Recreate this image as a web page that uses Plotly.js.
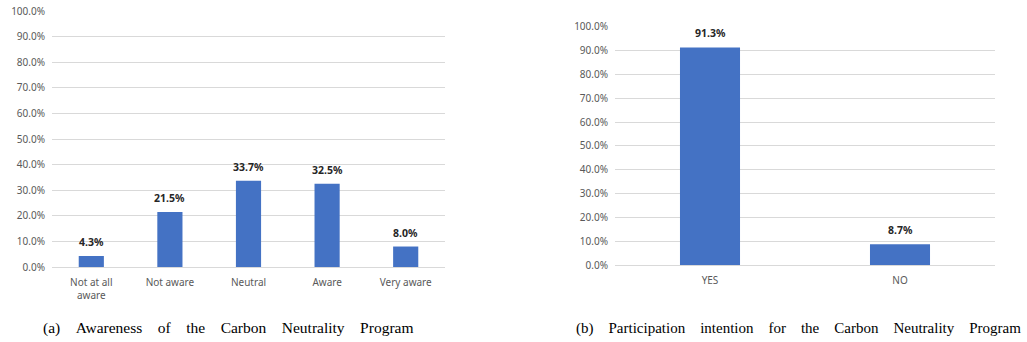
<!DOCTYPE html>
<html><head><meta charset="utf-8">
<script src="https://cdn.plot.ly/plotly-3.0.1.min.js"></script>
<style>html,body{margin:0;padding:0;background:#fff}#chart{width:1027px;height:342px}</style>
</head><body><div id="chart"></div>
<script>
const awarenessCats = ["Not at all<br>aware", "Not aware", "Neutral", "Aware", "Very aware"];
const awarenessVals = [0.043, 0.215, 0.337, 0.325, 0.080];
const intentionCats = ["YES", "NO"];
const intentionVals = [0.913, 0.087];
const captionAWords = ["(a)", "Awareness", "of", "the", "Carbon", "Neutrality", "Program"];
const captionBWords = ["(b)", "Participation", "intention", "for", "the", "Carbon", "Neutrality", "Program"];

const barColor = "#4472C4";
const tickFont = {family: "Noto Sans, Open Sans, sans-serif", size: 10, color: "#595959"};
const labelFont = {family: "Noto Sans, Open Sans, sans-serif", size: 10.5, color: "#262626"};
const gap = "&nbsp;&nbsp;&nbsp;&nbsp;";

const traces = [
  {type: "bar", x: awarenessCats, y: awarenessVals, xaxis: "x", yaxis: "y",
   marker: {color: barColor}, width: 0.32, hoverinfo: "none"},
  {type: "bar", x: intentionCats, y: intentionVals, xaxis: "x2", yaxis: "y2",
   marker: {color: barColor}, width: 0.316, hoverinfo: "none"}
];

const annotations = [];
awarenessCats.forEach((c, i) => annotations.push({
  xref: "x", yref: "y", x: c, y: awarenessVals[i], yanchor: "bottom", yshift: 5,
  text: "<b>" + (awarenessVals[i] * 100).toFixed(1) + "%</b>", showarrow: false, font: labelFont
}));
intentionCats.forEach((c, i) => annotations.push({
  xref: "x2", yref: "y2", x: c, y: intentionVals[i], yanchor: "bottom", yshift: 5,
  text: "<b>" + (intentionVals[i] * 100).toFixed(1) + "%</b>", showarrow: false, font: labelFont
}));
annotations.push({xref: "paper", yref: "paper", x: 227.5/1027, y: 1 - 328/342, xanchor: "center", yanchor: "middle",
  text: captionAWords.join(gap), showarrow: false, font: {family: "Liberation Serif, serif", size: 15.5, color: "#000"}});
annotations.push({xref: "paper", yref: "paper", x: 798/1027, y: 1 - 328/342, xanchor: "center", yanchor: "middle",
  text: captionBWords.join(gap), showarrow: false, font: {family: "Liberation Serif, serif", size: 15, color: "#000"}});

const yBase = {range: [0, 1], dtick: 0.1, tickformat: ".1%", gridcolor: "#d9d9d9", gridwidth: 1,
  zeroline: false, showline: false, ticks: "", tickfont: tickFont, fixedrange: true, ticklabelstandoff: 6};
const xBase = {showgrid: false, showline: true, linecolor: "#d9d9d9", ticks: "", tickfont: tickFont,
  fixedrange: true, ticklabelstandoff: 6};

const layout = {
  width: 1027, height: 342,
  margin: {l: 0, r: 0, t: 0, b: 0},
  paper_bgcolor: "#fff", plot_bgcolor: "#fff",
  showlegend: false,
  xaxis: Object.assign({}, xBase, {domain: [52/1027, 445/1027], anchor: "y"}),
  yaxis: Object.assign({}, yBase, {domain: [1 - 267/342, 1 - 11/342], anchor: "x"}),
  xaxis2: Object.assign({}, xBase, {domain: [615/1027, 995/1027], anchor: "y2"}),
  yaxis2: Object.assign({}, yBase, {domain: [1 - 265/342, 1 - 26.7/342], anchor: "x2"}),
  annotations: annotations
};

Plotly.newPlot("chart", traces, layout, {displayModeBar: false, staticPlot: true});
</script>
</body></html>
